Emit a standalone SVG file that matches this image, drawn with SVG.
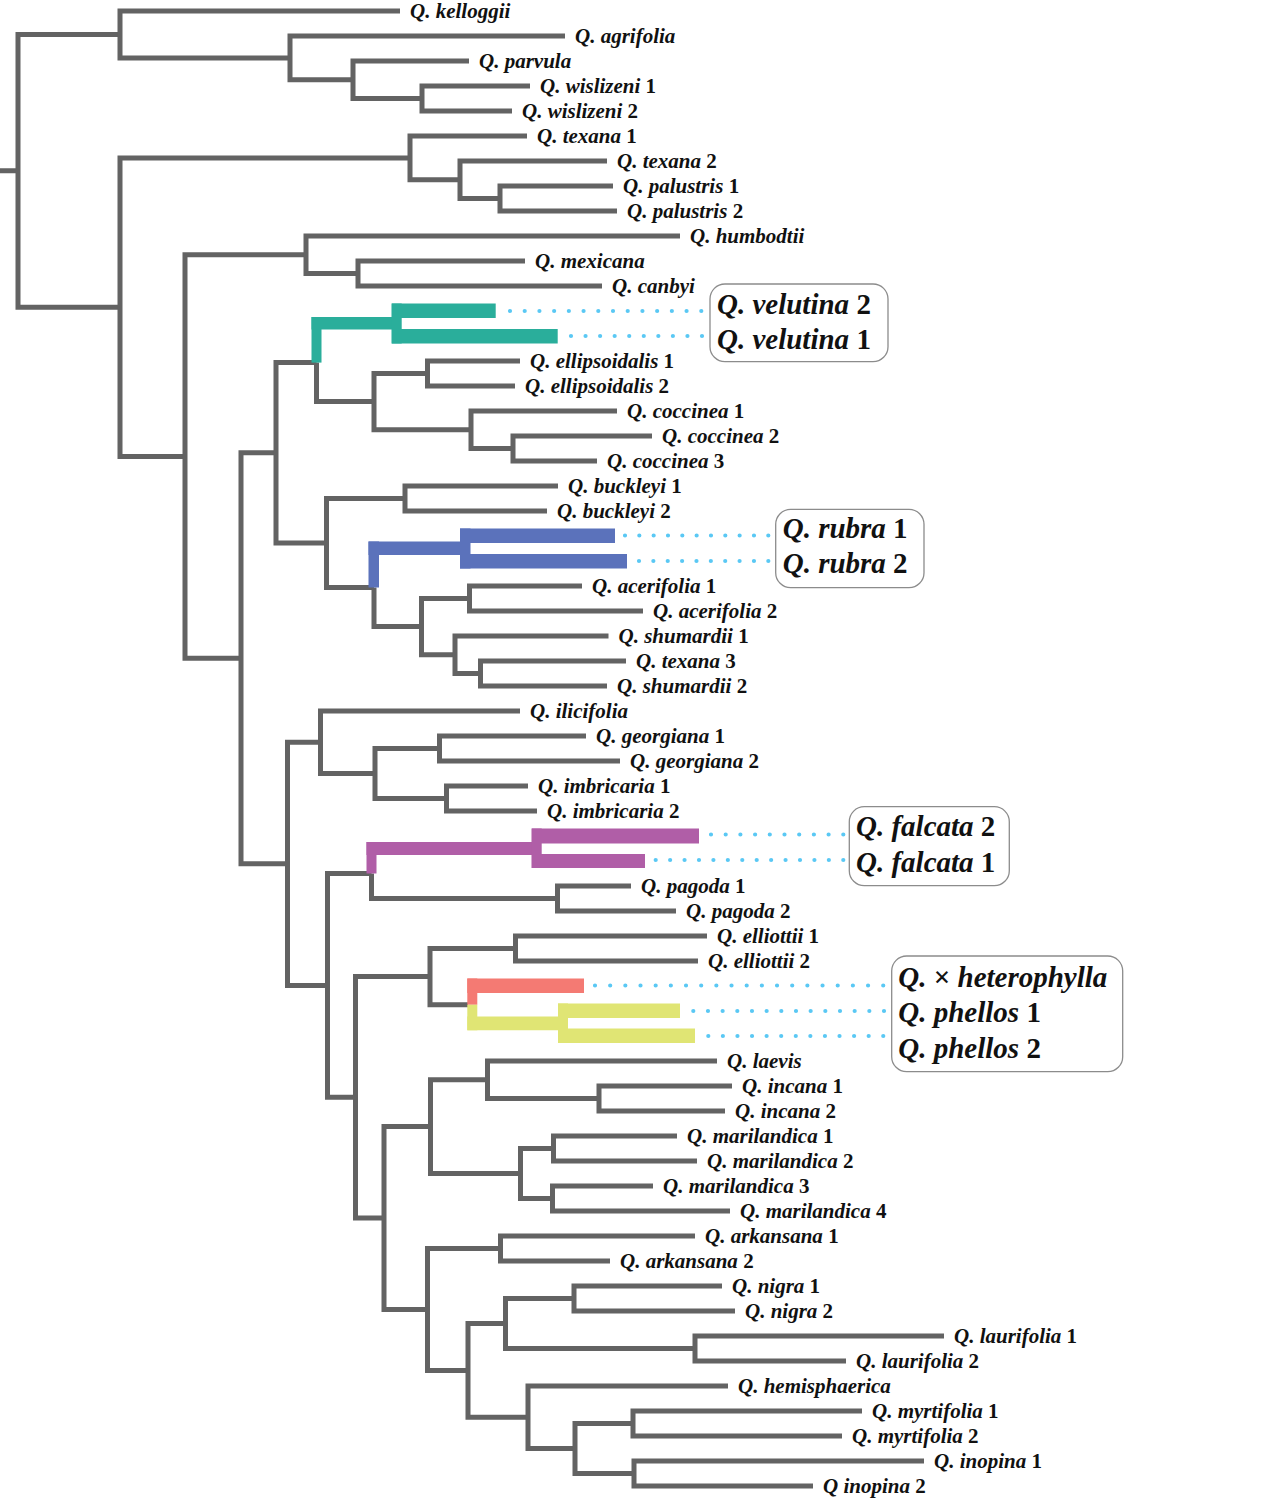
<svg xmlns="http://www.w3.org/2000/svg" width="1261" height="1500" viewBox="0 0 1261 1500">
<style>
.br{fill:none;stroke:#636363;stroke-width:5;stroke-linejoin:miter}
.dot{fill:none;stroke:#5ac8f4;stroke-width:4.2;stroke-linecap:round}
.box{fill:#fff;stroke:#8c8c8c;stroke-width:1.3}
.lab{font-family:"Liberation Serif","Times New Roman",serif;font-weight:bold;font-style:italic;font-size:21px;fill:#111}
.big{font-family:"Liberation Serif","Times New Roman",serif;font-weight:bold;font-style:italic;font-size:29px;fill:#111}
.n{font-style:normal}
.teal{fill:#2aae9b}.blue{fill:#5b72bb}.pink{fill:#b05ea7}.red{fill:#f47a73}.yel{fill:#e0e574}
</style>
<rect width="1261" height="1500" fill="#fff"/>
<g id="connectors">
<path class="br" d="M120 34.4H18V307.2H120M0 170.8H18"/>
<path class="br" d="M400 11H120V57.9H290"/>
<path class="br" d="M565 36H290V79.75H353"/>
<path class="br" d="M469 61H353V98.5H422"/>
<path class="br" d="M530 86H422V111H512"/>
<path class="br" d="M410 157.9H120V456.5H185"/>
<path class="br" d="M527 136H410V179.75H460"/>
<path class="br" d="M607 161H460V198.5H500"/>
<path class="br" d="M613 186H500V211H617"/>
<path class="br" d="M306 254.75H185V658.3H241"/>
<path class="br" d="M680 236H306V273.5H358"/>
<path class="br" d="M525 261H358V286H602"/>
<path class="br" d="M276 452.8H241V863.8H287.5"/>
<path class="br" d="M316.5 362.6H276V543H326.5"/>
<path class="br" d="M316.5 362.6V401.6H374"/>
<path class="br" d="M427.5 373.5H374V429.75H471"/>
<path class="br" d="M520 361H427.5V386H515"/>
<path class="br" d="M617 411H471V448.5H513"/>
<path class="br" d="M652 436H513V461H597"/>
<path class="br" d="M405 498.5H326.5V587.6H374"/>
<path class="br" d="M558 486H405V511H547"/>
<path class="br" d="M374 587.6V626.6H421.5"/>
<path class="br" d="M469.5 598.5H421.5V654.75H455"/>
<path class="br" d="M582 586H469.5V611H643"/>
<path class="br" d="M608.5 636H455V673.5H480.5"/>
<path class="br" d="M626 661H480.5V686H607"/>
<path class="br" d="M320.5 742.25H287.5V985.4H327.5"/>
<path class="br" d="M520 711H320.5V773.5H375"/>
<path class="br" d="M439.5 748.5H375V798.5H446.5"/>
<path class="br" d="M586 736H439.5V761H620"/>
<path class="br" d="M528 786H446.5V811H537"/>
<path class="br" d="M371.5 873.5H327.5V1097.3H355.5"/>
<path class="br" d="M371.5 873.5V898.5H557.5"/>
<path class="br" d="M631 886H557.5V911H676"/>
<path class="br" d="M430 976.6H355.5V1218H384"/>
<path class="br" d="M515.5 948.5H430V1004.75H468"/>
<path class="br" d="M707 936H515.5V961H698"/>
<path class="br" d="M430.5 1126.6H384V1309.4H427.5"/>
<path class="br" d="M487.5 1079.75H430.5V1173.5H520.5"/>
<path class="br" d="M717 1061H487.5V1098.5H599"/>
<path class="br" d="M732 1086H599V1111H725"/>
<path class="br" d="M553.5 1148.5H520.5V1198.5H552.5"/>
<path class="br" d="M677 1136H553.5V1161H697"/>
<path class="br" d="M653 1186H552.5V1211H730"/>
<path class="br" d="M500.5 1248.5H427.5V1370.4H468"/>
<path class="br" d="M695 1236H500.5V1261H610"/>
<path class="br" d="M505.5 1323.5H468V1417.25H528"/>
<path class="br" d="M574 1298.5H505.5V1348.5H695"/>
<path class="br" d="M722 1286H574V1311H735"/>
<path class="br" d="M944 1336H695V1361H846"/>
<path class="br" d="M728 1386H528V1448.5H575"/>
<path class="br" d="M633 1423.5H575V1473.5H634"/>
<path class="br" d="M862 1411H633V1436H842"/>
<path class="br" d="M924 1461H634V1486H813"/>
</g>
<g id="clade-velutina">
<rect class="teal" x="311.5" y="317" width="10" height="45.6"/>
<rect class="teal" x="311.5" y="317" width="85.5" height="12.5"/>
<rect class="teal" x="391.7" y="303.5" width="10" height="40"/>
<rect class="teal" x="391.7" y="303.5" width="104" height="14.5"/>
<rect class="teal" x="391.7" y="329" width="166" height="14.5"/>
</g>
<g id="clade-rubra">
<rect class="blue" x="368.5" y="541.5" width="10.5" height="46"/>
<rect class="blue" x="368.5" y="541.5" width="92" height="13.5"/>
<rect class="blue" x="460" y="528.5" width="10.5" height="40"/>
<rect class="blue" x="460" y="528.5" width="155" height="14.5"/>
<rect class="blue" x="460" y="554" width="167" height="14.5"/>
</g>
<g id="clade-falcata">
<rect class="pink" x="366.5" y="842" width="10" height="31.5"/>
<rect class="pink" x="366.5" y="842" width="170" height="13"/>
<rect class="pink" x="531.7" y="828.5" width="10" height="39.5"/>
<rect class="pink" x="531.7" y="828.5" width="167.3" height="15"/>
<rect class="pink" x="531.7" y="854" width="113.3" height="14"/>
</g>
<g id="clade-phellos">
<rect class="red" x="467.3" y="978.5" width="116.7" height="14.5"/>
<rect class="red" x="467.3" y="978.5" width="10" height="26.25"/>
<rect class="yel" x="467.3" y="1004.75" width="10" height="25.5"/>
<rect class="yel" x="467.3" y="1016.5" width="95" height="13.75"/>
<rect class="yel" x="558" y="1003.5" width="10" height="39.5"/>
<rect class="yel" x="558" y="1003.5" width="122" height="14.5"/>
<rect class="yel" x="558" y="1028.5" width="137" height="14.5"/>
</g>
<g id="dotted-links">
<path class="dot" stroke-dasharray="0 14.715" d="M510 311H701.8"/>
<path class="dot" stroke-dasharray="0 14.556" d="M571 336H702.5"/>
<path class="dot" stroke-dasharray="0 14.33" d="M625 535.5H768.8"/>
<path class="dot" stroke-dasharray="0 14.37" d="M639 561H768.8"/>
<path class="dot" stroke-dasharray="0 14.7" d="M711 834.5H843.8"/>
<path class="dot" stroke-dasharray="0 14.43" d="M655.7 860H843.8"/>
<path class="dot" stroke-dasharray="0 15.17" d="M595 985.5H883.8"/>
<path class="dot" stroke-dasharray="0 14.67" d="M693.3 1011H884.5"/>
<path class="dot" stroke-dasharray="0 14.58" d="M708.3 1036H883.8"/>
</g>
<g id="box-velutina">
<rect class="box" x="710" y="284" width="178" height="77.7" rx="15"/>
<text class="big" x="717" y="313.5">Q. velutina <tspan class="n">2</tspan></text>
<text class="big" x="717" y="348.5">Q. velutina <tspan class="n">1</tspan></text>
</g>
<g id="box-rubra">
<rect class="box" x="775.7" y="509.3" width="148.3" height="78.4" rx="15"/>
<text class="big" x="782.7" y="537.5">Q. rubra <tspan class="n">1</tspan></text>
<text class="big" x="782.7" y="573">Q. rubra <tspan class="n">2</tspan></text>
</g>
<g id="box-falcata">
<rect class="box" x="849.3" y="806.7" width="160" height="79" rx="15"/>
<text class="big" x="856" y="836">Q. falcata <tspan class="n">2</tspan></text>
<text class="big" x="856" y="871.5">Q. falcata <tspan class="n">1</tspan></text>
</g>
<g id="box-phellos">
<rect class="box" x="891.7" y="956" width="231" height="115.7" rx="15"/>
<text class="big" x="898.3" y="986.5">Q. <tspan class="n">×</tspan> heterophylla</text>
<text class="big" x="898.3" y="1022">Q. phellos <tspan class="n">1</tspan></text>
<text class="big" x="898.3" y="1058">Q. phellos <tspan class="n">2</tspan></text>
</g>
<g id="leaves">
<g id="n-kelloggii"><text class="lab" x="410" y="18">Q. kelloggii</text></g>
<g id="n-agrifolia"><text class="lab" x="575" y="43">Q. agrifolia</text></g>
<g id="n-parvula"><text class="lab" x="479" y="68">Q. parvula</text></g>
<g id="n-wislizeni1"><text class="lab" x="540" y="93">Q. wislizeni <tspan class="n">1</tspan></text></g>
<g id="n-wislizeni2"><text class="lab" x="522" y="118">Q. wislizeni <tspan class="n">2</tspan></text></g>
<g id="n-texana1"><text class="lab" x="537" y="143">Q. texana <tspan class="n">1</tspan></text></g>
<g id="n-texana2"><text class="lab" x="617" y="168">Q. texana <tspan class="n">2</tspan></text></g>
<g id="n-palustris1"><text class="lab" x="623" y="193">Q. palustris <tspan class="n">1</tspan></text></g>
<g id="n-palustris2"><text class="lab" x="627" y="218">Q. palustris <tspan class="n">2</tspan></text></g>
<g id="n-humbodtii"><text class="lab" x="690" y="243">Q. humbodtii</text></g>
<g id="n-mexicana"><text class="lab" x="535" y="268">Q. mexicana</text></g>
<g id="n-canbyi"><text class="lab" x="612" y="293">Q. canbyi</text></g>
<g id="n-ellipsoidalis1"><text class="lab" x="530" y="368">Q. ellipsoidalis <tspan class="n">1</tspan></text></g>
<g id="n-ellipsoidalis2"><text class="lab" x="525" y="393">Q. ellipsoidalis <tspan class="n">2</tspan></text></g>
<g id="n-coccinea1"><text class="lab" x="627" y="418">Q. coccinea <tspan class="n">1</tspan></text></g>
<g id="n-coccinea2"><text class="lab" x="662" y="443">Q. coccinea <tspan class="n">2</tspan></text></g>
<g id="n-coccinea3"><text class="lab" x="607" y="468">Q. coccinea <tspan class="n">3</tspan></text></g>
<g id="n-buckleyi1"><text class="lab" x="568" y="493">Q. buckleyi <tspan class="n">1</tspan></text></g>
<g id="n-buckleyi2"><text class="lab" x="557" y="518">Q. buckleyi <tspan class="n">2</tspan></text></g>
<g id="n-acerifolia1"><text class="lab" x="592" y="593">Q. acerifolia <tspan class="n">1</tspan></text></g>
<g id="n-acerifolia2"><text class="lab" x="653" y="618">Q. acerifolia <tspan class="n">2</tspan></text></g>
<g id="n-shumardii1"><text class="lab" x="618.5" y="643">Q. shumardii <tspan class="n">1</tspan></text></g>
<g id="n-texana3"><text class="lab" x="636" y="668">Q. texana <tspan class="n">3</tspan></text></g>
<g id="n-shumardii2"><text class="lab" x="617" y="693">Q. shumardii <tspan class="n">2</tspan></text></g>
<g id="n-ilicifolia"><text class="lab" x="530" y="718">Q. ilicifolia</text></g>
<g id="n-georgiana1"><text class="lab" x="596" y="743">Q. georgiana <tspan class="n">1</tspan></text></g>
<g id="n-georgiana2"><text class="lab" x="630" y="768">Q. georgiana <tspan class="n">2</tspan></text></g>
<g id="n-imbricaria1"><text class="lab" x="538" y="793">Q. imbricaria <tspan class="n">1</tspan></text></g>
<g id="n-imbricaria2"><text class="lab" x="547" y="818">Q. imbricaria <tspan class="n">2</tspan></text></g>
<g id="n-pagoda1"><text class="lab" x="641" y="893">Q. pagoda <tspan class="n">1</tspan></text></g>
<g id="n-pagoda2"><text class="lab" x="686" y="918">Q. pagoda <tspan class="n">2</tspan></text></g>
<g id="n-elliottii1"><text class="lab" x="717" y="943">Q. elliottii <tspan class="n">1</tspan></text></g>
<g id="n-elliottii2"><text class="lab" x="708" y="968">Q. elliottii <tspan class="n">2</tspan></text></g>
<g id="n-laevis"><text class="lab" x="727" y="1068">Q. laevis</text></g>
<g id="n-incana1"><text class="lab" x="742" y="1093">Q. incana <tspan class="n">1</tspan></text></g>
<g id="n-incana2"><text class="lab" x="735" y="1118">Q. incana <tspan class="n">2</tspan></text></g>
<g id="n-marilandica1"><text class="lab" x="687" y="1143">Q. marilandica <tspan class="n">1</tspan></text></g>
<g id="n-marilandica2"><text class="lab" x="707" y="1168">Q. marilandica <tspan class="n">2</tspan></text></g>
<g id="n-marilandica3"><text class="lab" x="663" y="1193">Q. marilandica <tspan class="n">3</tspan></text></g>
<g id="n-marilandica4"><text class="lab" x="740" y="1218">Q. marilandica <tspan class="n">4</tspan></text></g>
<g id="n-arkansana1"><text class="lab" x="705" y="1243">Q. arkansana <tspan class="n">1</tspan></text></g>
<g id="n-arkansana2"><text class="lab" x="620" y="1268">Q. arkansana <tspan class="n">2</tspan></text></g>
<g id="n-nigra1"><text class="lab" x="732" y="1293">Q. nigra <tspan class="n">1</tspan></text></g>
<g id="n-nigra2"><text class="lab" x="745" y="1318">Q. nigra <tspan class="n">2</tspan></text></g>
<g id="n-laurifolia1"><text class="lab" x="954" y="1343">Q. laurifolia <tspan class="n">1</tspan></text></g>
<g id="n-laurifolia2"><text class="lab" x="856" y="1368">Q. laurifolia <tspan class="n">2</tspan></text></g>
<g id="n-hemisphaerica"><text class="lab" x="738" y="1393">Q. hemisphaerica</text></g>
<g id="n-myrtifolia1"><text class="lab" x="872" y="1418">Q. myrtifolia <tspan class="n">1</tspan></text></g>
<g id="n-myrtifolia2"><text class="lab" x="852" y="1443">Q. myrtifolia <tspan class="n">2</tspan></text></g>
<g id="n-inopina1"><text class="lab" x="934" y="1468">Q. inopina <tspan class="n">1</tspan></text></g>
<g id="n-inopina2"><text class="lab" x="823" y="1493">Q inopina <tspan class="n">2</tspan></text></g>
</g>
</svg>
